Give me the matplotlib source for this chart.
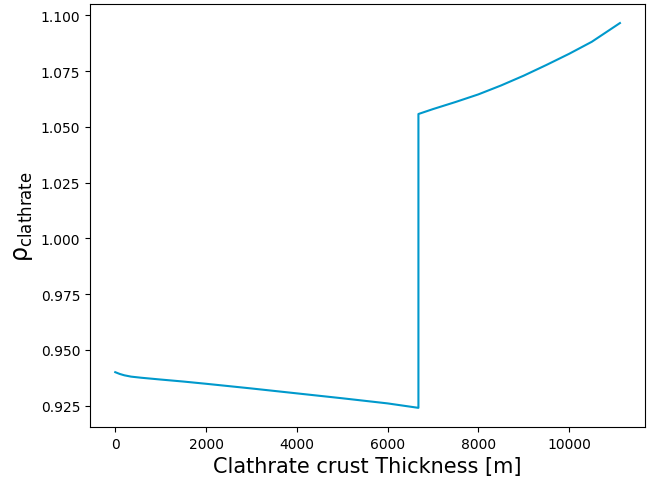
import numpy as np
import matplotlib.pyplot as plt

# crust thickness [m] and clathrate density
thick_low = [0, 100, 200, 350, 575, 1000, 1500, 2000, 3000, 4000, 5000, 6000, 6680]
rho_low = [0.9400, 0.9392, 0.9386, 0.9380, 0.9375, 0.9367, 0.9358, 0.9348, 0.9327, 0.9305, 0.9283, 0.9260, 0.9240]
thick_high = [6680, 7000, 7500, 8000, 8500, 9000, 9500, 10000, 10500, 11120]
rho_high = [1.0558, 1.0580, 1.0612, 1.0646, 1.0686, 1.0730, 1.0778, 1.0828, 1.0882, 1.0966]

x = np.array(thick_low + thick_high)
y = np.array(rho_low + rho_high)

fig = plt.figure(figsize=(6.57, 4.81), dpi=100)
ax = fig.add_subplot(111)
fig.subplots_adjust(left=0.137, right=0.982, top=0.99, bottom=0.11)
ax.plot(x, y, color='#0099CC', lw=1.5)
ax.set_xlabel('Clathrate crust Thickness [m]', fontsize=15)
ax.set_ylabel(r'ρ$_{\rm clathrate}$', fontsize=17)
ax.set_yticks(np.arange(0.925, 1.1001, 0.025))
ax.set_xticks([0, 2000, 4000, 6000, 8000, 10000])
plt.savefig('out.png')
